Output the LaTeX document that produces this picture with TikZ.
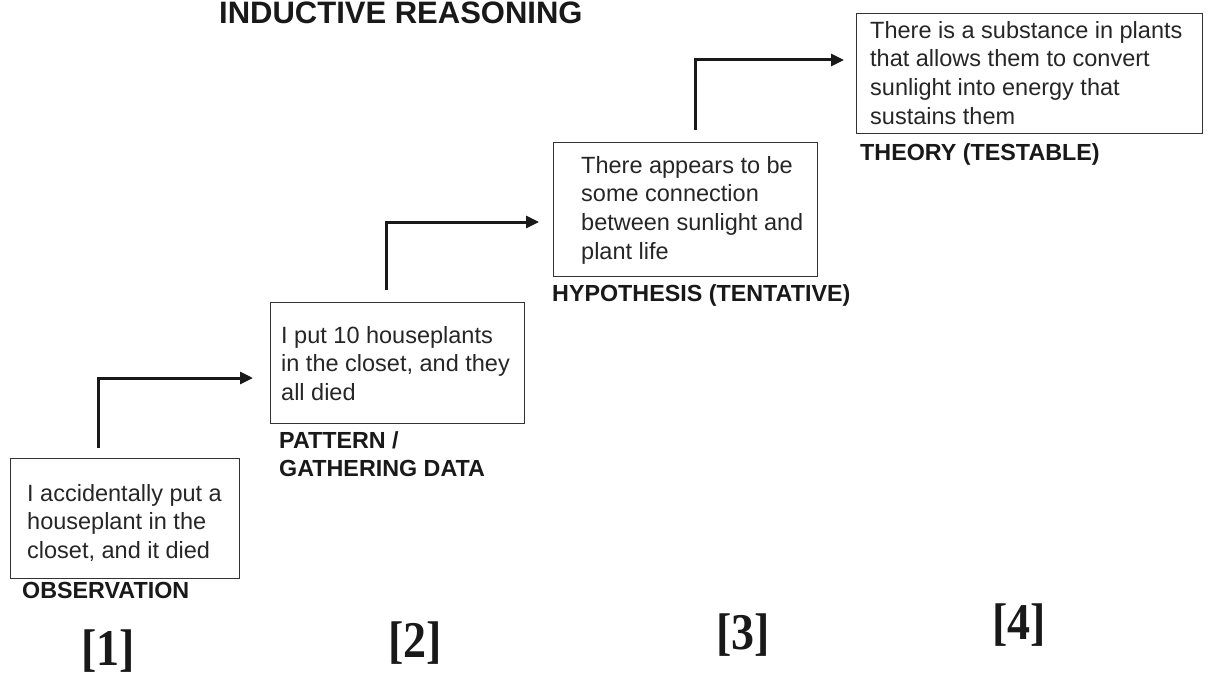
\documentclass[tikz,border=0pt]{standalone}
\usepackage{fontspec}
\setmainfont{Liberation Sans}
\newfontfamily\brfont{Liberation Serif}
\usetikzlibrary{arrows.meta}
\begin{document}
\begin{tikzpicture}[x=1pt,y=-1pt,
  box/.style={draw=black!80, line width=1.3pt, anchor=north west, inner sep=0pt},
  txt/.style={anchor=north west, inner sep=0pt, align=left, text=black!85,
    font=\fontsize{23.5}{28.7}\selectfont},
  lab/.style={anchor=base west, inner sep=0pt, align=left, text=black!90,
    font=\bfseries\fontsize{23.3}{28}\selectfont},
  num/.style={inner sep=0pt, text=black!90, font=\brfont\bfseries\fontsize{46}{50}\selectfont},
  flow/.style={line width=3pt, black!90, -{Triangle[length=13pt,width=12pt]}}
]
\useasboundingbox (0,0) rectangle (1225,677);

% title
\node[anchor=base west, inner sep=0pt, text=black!90,
  font=\bfseries\fontsize{31}{36}\selectfont] (title) at (219,24) {INDUCTIVE REASONING};

% boxes
\node[box, minimum width=229pt, minimum height=120pt] (b1) at (10,458) {};
\node[box, minimum width=254pt, minimum height=121pt] (b2) at (270,302) {};
\node[box, minimum width=264pt, minimum height=134pt] (b3) at (553,142) {};
\node[box, minimum width=346pt, minimum height=120pt] (b4) at (856,13) {};

% box texts
\node[txt] (t1) at (27,484) {I accidentally put a\\houseplant in the\\closet, and it died};
\node[txt] (t2) at (281,326) {I put 10 houseplants\\in the closet, and they\\all died};
\node[txt] (t3) at (581,156) {There appears to be\\some connection\\between sunlight and\\plant life};
\node[txt] (t4) at (870,21) {There is a substance in plants\\that allows them to convert\\sunlight into energy that\\sustains them};

% labels
\node[lab] (l1) at (22,598) {OBSERVATION};
\node[lab, anchor=north west] (l2) at (279,431) {PATTERN /\\GATHERING DATA};
\node[lab] (l3) at (552,301) {HYPOTHESIS (TENTATIVE)};
\node[lab] (l4) at (860,160) {THEORY (TESTABLE)};

% connectors
\coordinate (a1s) at (98,448);
\coordinate (a1e) at (253,378);
\coordinate (a2s) at (386,290);
\coordinate (a2e) at (539,222);
\coordinate (a3s) at (695,130);
\coordinate (a3e) at (844,60);
\draw[flow] (a1s) |- (a1e);
\draw[flow] (a2s) |- (a2e);
\draw[flow] (a3s) |- (a3e);

% step numbers
\node[num] (n1) at (108,651) {\scalebox{1}[1.12]{[1]}};
\node[num] (n2) at (415,643) {\scalebox{1}[1.12]{[2]}};
\node[num] (n3) at (743,635) {\scalebox{1}[1.12]{[3]}};
\node[num] (n4) at (1019,625) {\scalebox{1}[1.12]{[4]}};
\end{tikzpicture}
\end{document}
